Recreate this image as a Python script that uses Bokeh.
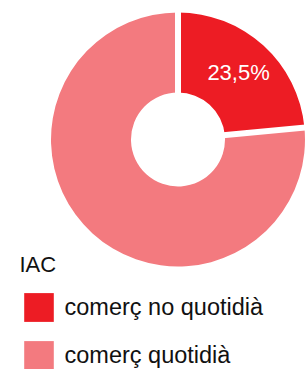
import numpy as np
from bokeh.plotting import figure
from bokeh.models import ColumnDataSource, Legend, LegendItem, Range1d
from bokeh.core.properties import value
from bokeh.embed import file_html
from bokeh.resources import INLINE

# ---- data ----
categories = ["comerç no quotidià", "comerç quotidià"]
shares = [23.5, 76.5]
colors = ["#ED1C24", "#F37A7F"]
show_label = [True, False]
legend_title = "IAC"

# ---- layout ----
W, H = 308, 369
CX, CY = 177.5, 230.0
R_OUT, R_IN = 127.0, 47.0
FONT = "Liberation Sans"

vals = np.array(shares, dtype=float)
frac = vals / vals.sum()
cum = np.cumsum(frac)
start = np.pi / 2 - 2 * np.pi * (cum - frac)
end = np.pi / 2 - 2 * np.pi * cum
mid = (start + end) / 2

src = ColumnDataSource(dict(
    start=start, end=end, color=colors, cat=categories,
))

p = figure(width=W, height=H, x_range=Range1d(0, W), y_range=Range1d(0, H),
           x_axis_type=None, y_axis_type=None, output_backend="svg",
           toolbar_location=None, min_border=0)
p.grid.visible = False
p.outline_line_color = None
p.background_fill_color = "white"
p.border_fill_color = "white"

wr = p.annular_wedge(x=CX, y=CY, inner_radius=R_IN, outer_radius=R_OUT,
                     start_angle="start", end_angle="end", direction="clock",
                     fill_color="color", line_color=None, source=src)

# white separators along slice boundaries
p.ray(x=CX, y=CY, length=R_OUT + 6, angle=list(start), line_color="white",
      line_width=6)

# slice labels
lx, ly, lt = [], [], []
r_lab = (R_OUT + R_IN) / 2 + 3
for i, s in enumerate(shares):
    if show_label[i]:
        lx.append(CX + r_lab * np.cos(mid[i]))
        ly.append(CY + r_lab * np.sin(mid[i]))
        lt.append(f"{s:.1f}%".replace(".", ","))
p.text(x=lx, y=ly, text=lt, text_color="white", text_font=value(FONT),
       text_font_size="22px", text_align="center", text_baseline="middle")

items = [LegendItem(label=categories[i], renderers=[wr], index=i)
         for i in range(len(categories))]
legend = Legend(items=items, title=legend_title, location=(19.5, -4),
                orientation="vertical", padding=0, margin=0, spacing=12,
                glyph_width=37, glyph_height=36, label_height=36,
                label_standoff=8, title_standoff=11,
                label_text_font=FONT, label_text_font_size="23.5px",
                label_text_color="#111111",
                title_text_font=FONT, title_text_font_size="22px",
                title_text_font_style="normal", title_text_color="#111111",
                border_line_color=None, background_fill_alpha=0)
p.add_layout(legend, "center")

open("out.html", "w").write(file_html(p, INLINE))
